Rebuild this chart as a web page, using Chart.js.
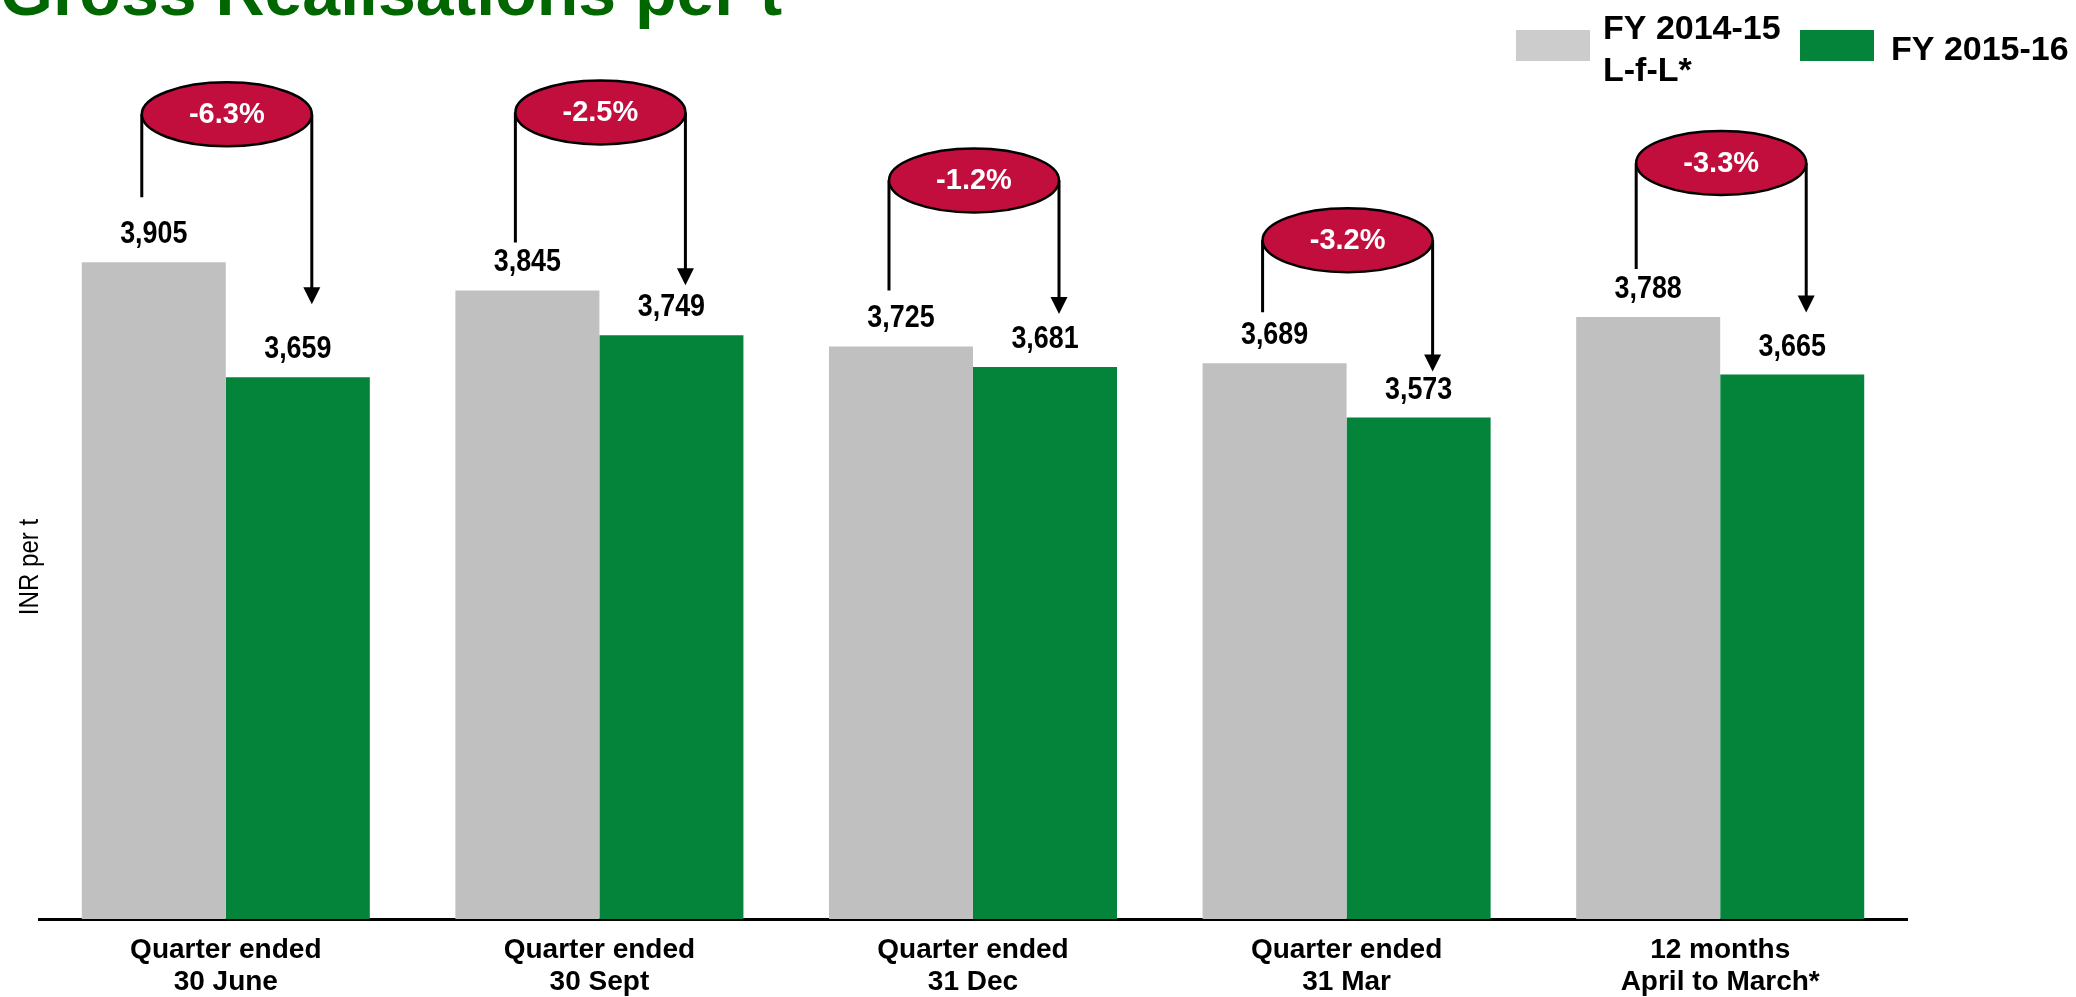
<!DOCTYPE html>
<html>
<head>
<meta charset="utf-8">
<script src="https://cdn.jsdelivr.net/npm/chart.js@4/dist/chart.umd.min.js"></script>
<style>
  html, body { margin: 0; padding: 0; background: #fff; overflow: hidden; }
  #wrap { width: 2076px; height: 997px; position: relative; }
</style>
</head>
<body>
<div id="wrap"><canvas id="myChart"></canvas></div>
<script>
// values
const periods = [
  ['Quarter ended', '30 June'],
  ['Quarter ended', '30 Sept'],
  ['Quarter ended', '31 Dec'],
  ['Quarter ended', '31 Mar'],
  ['12 months', 'April to March*']
];
const fy1415 = [3905, 3845, 3725, 3689, 3788];
const fy1516 = [3659, 3749, 3681, 3573, 3665];
const changes = ['-6.3%', '-2.5%', '-1.2%', '-3.2%', '-3.3%'];
const seriesNames = [['FY 2014-15', 'L-f-L*'], ['FY 2015-16']];
const chartTitle = 'Gross Realisations per t';
const axisTitle = 'INR per t';
const yMin = 2500;
const yMax = 4400;

// look of the slide
const GREY = '#c0c0c0';
const GREY_KEY = '#cccccc';
const GREEN = '#03843a';
const CRIMSON = '#c10e3d';
const FONT = "'Liberation Sans', Arial, sans-serif";

// callout placement, in pixels above the bars (hand placed on the slide)
const callout = {
  lift: [148, 178, 166, 123, 154],     // ellipse centre above grey bar top
  stemGap: [65, 48, 56, 51, 48],       // left stem end above grey bar top
  arrowGap: [73, 50, 53, 46, 62]       // arrow tip above green bar top
};

// value labels on top of bars, drawn a bit condensed like the slide
const valueLabels = {
  id: 'valueLabels',
  afterDatasetsDraw(chart) {
    const ctx = chart.ctx;
    ctx.save();
    ctx.font = 'bold 32px ' + FONT;
    ctx.fillStyle = '#000';
    ctx.textAlign = 'center';
    ctx.textBaseline = 'alphabetic';
    chart.data.datasets.forEach((ds, d) => {
      chart.getDatasetMeta(d).data.forEach((bar, i) => {
        const txt = ds.data[i].toLocaleString('en-US');
        ctx.save();
        ctx.translate(bar.x, bar.y - 19);
        ctx.scale(0.84, 1);
        ctx.fillText(txt, 0, 0);
        ctx.restore();
      });
    });
    ctx.restore();
  }
};

// red ellipse with the % change and the arrow from grey bar to green bar
const callouts = {
  id: 'callouts',
  afterDatasetsDraw(chart) {
    const ctx = chart.ctx;
    const greyBars = chart.getDatasetMeta(0).data;
    const greenBars = chart.getDatasetMeta(1).data;
    ctx.save();
    for (let i = 0; i < changes.length; i++) {
      const g = greyBars[i];
      const n = greenBars[i];
      const left = g.x - 12;
      const right = n.x + 14;
      const cy = g.y - callout.lift[i];
      const cx = (left + right) / 2;
      const tip = n.y - callout.arrowGap[i];

      ctx.strokeStyle = '#000';
      ctx.fillStyle = '#000';
      ctx.lineWidth = 3;
      ctx.beginPath();
      ctx.moveTo(left, cy);
      ctx.lineTo(left, g.y - callout.stemGap[i]);
      ctx.moveTo(right, cy);
      ctx.lineTo(right, tip - 16);
      ctx.stroke();

      ctx.beginPath();
      ctx.moveTo(right, tip);
      ctx.lineTo(right - 8.5, tip - 17);
      ctx.lineTo(right + 8.5, tip - 17);
      ctx.closePath();
      ctx.fill();

      ctx.beginPath();
      ctx.ellipse(cx, cy, (right - left) / 2, 32, 0, 0, Math.PI * 2);
      ctx.fillStyle = CRIMSON;
      ctx.fill();
      ctx.lineWidth = 2.5;
      ctx.stroke();

      ctx.fillStyle = '#fff';
      ctx.font = 'bold 29px ' + FONT;
      ctx.textAlign = 'center';
      ctx.textBaseline = 'middle';
      ctx.fillText(changes[i], cx, cy + 1);
    }
    ctx.restore();
  }
};

// slide title, legend keys and the side caption
const decorations = {
  id: 'decorations',
  afterDraw(chart) {
    const ctx = chart.ctx;
    ctx.save();

    ctx.fillStyle = '#006600';
    ctx.font = 'bold 68px ' + FONT;
    ctx.textAlign = 'left';
    ctx.textBaseline = 'alphabetic';
    ctx.fillText(chartTitle, 0, 15);

    ctx.save();
    ctx.translate(30, 567);
    ctx.rotate(-Math.PI / 2);
    ctx.scale(0.86, 1);
    ctx.fillStyle = '#000';
    ctx.font = '28px ' + FONT;
    ctx.textAlign = 'center';
    ctx.textBaseline = 'middle';
    ctx.fillText(axisTitle, 0, 0);
    ctx.restore();

    // legend
    const keys = [
      { x: 1516, fill: GREY_KEY, textX: 1603, base: 39 },
      { x: 1800, fill: GREEN, textX: 1891, base: 60 }
    ];
    ctx.font = 'bold 34px ' + FONT;
    keys.forEach((k, j) => {
      ctx.fillStyle = k.fill;
      ctx.fillRect(k.x, 30, 74, 31);
      ctx.fillStyle = '#000';
      seriesNames[j].forEach((line, l) => {
        ctx.fillText(line, k.textX, k.base + l * 42);
      });
    });

    ctx.restore();
  }
};

const myChart = new Chart(document.getElementById('myChart'), {
  type: 'bar',
  data: {
    labels: periods,
    datasets: [
      {
        label: seriesNames[0].join(' '),
        data: fy1415,
        backgroundColor: GREY,
        borderWidth: 0,
        categoryPercentage: 0.771,
        barPercentage: 1.0
      },
      {
        label: seriesNames[1].join(' '),
        data: fy1516,
        backgroundColor: GREEN,
        borderWidth: 0,
        categoryPercentage: 0.771,
        barPercentage: 1.0
      }
    ]
  },
  options: {
    responsive: true,
    maintainAspectRatio: false,
    animation: false,
    layout: { padding: { top: 31, left: 39, right: 169, bottom: 0 } },
    plugins: {
      legend: { display: false },
      tooltip: { enabled: false }
    },
    scales: {
      x: {
        grid: { display: false, drawTicks: false },
        border: { display: true, color: '#000', width: 3 },
        ticks: {
          color: '#000',
          font: { family: FONT, size: 28, weight: 'bold', lineHeight: 32 / 28 },
          padding: 15,
          maxRotation: 0,
          autoSkip: false
        },
        afterFit(scale) { scale.height = 78; }
      },
      y: {
        display: false,
        min: yMin,
        max: yMax
      }
    }
  },
  plugins: [valueLabels, callouts, decorations]
});
</script>
</body>
</html>
